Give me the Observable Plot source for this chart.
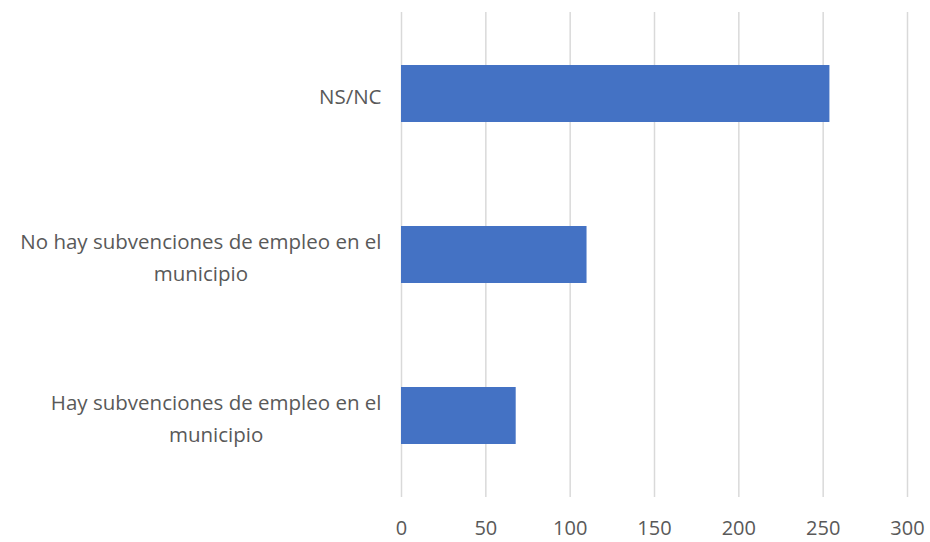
<!DOCTYPE html>
<html>
<head>
<meta charset="utf-8">
<script src="https://cdn.jsdelivr.net/npm/d3@7"></script>
<script src="https://cdn.jsdelivr.net/npm/@observablehq/plot@0.6"></script>
<style>
  html, body { margin: 0; padding: 0; background: #fff; }
  #chart { width: 930px; height: 542px; }
</style>
</head>
<body>
<div id="chart"></div>
<script>
const categories = [
  "NS/NC",
  "No hay subvenciones de empleo en el\nmunicipio",
  "Hay subvenciones de empleo en el\nmunicipio"
];
const values = [254, 110, 68];
const xTicks = [0, 50, 100, 150, 200, 250, 300];

const data = categories.map((c, i) => ({category: c, value: values[i]}));

const font = "'Open Sans', sans-serif";
const labelSize = 20.5;
const labelGap = 20;

// measure widest line of each label so lines are centred within a right-aligned block
const ctx = document.createElement("canvas").getContext("2d");
ctx.font = `${labelSize}px 'Open Sans'`;
const blockWidth = c => Math.max(...c.split("\n").map(l => ctx.measureText(l).width));

const labelMarks = data.map(d => Plot.text([d], {
  y: "category", text: "category", frameAnchor: "left",
  textAnchor: "middle", dx: -labelGap - blockWidth(d.category) / 2,
  lineHeight: 1.55, fill: "#595959", fontSize: labelSize
}));

const plot = Plot.plot({
  width: 930,
  height: 542,
  marginLeft: 401,
  marginRight: 23,
  marginTop: 12,
  marginBottom: 45,
  style: {fontFamily: font, fontSize: "20px", color: "#595959", background: "#fff"},
  x: {domain: [0, 300], ticks: xTicks},
  y: {domain: categories, paddingInner: 0.645, paddingOuter: 0.3225, axis: null},
  marks: [
    Plot.gridX(xTicks, {stroke: "#d9d9d9", strokeOpacity: 1, strokeWidth: 1.5}),
    Plot.barX(data, {x: "value", y: "category", fill: "#4472C4"}),
    Plot.axisX(xTicks, {tickSize: 0, tickPadding: 23, fontSize: 20, fill: "#595959", label: null}),
    ...labelMarks
  ]
});
document.getElementById("chart").appendChild(plot);
</script>
</body>
</html>
